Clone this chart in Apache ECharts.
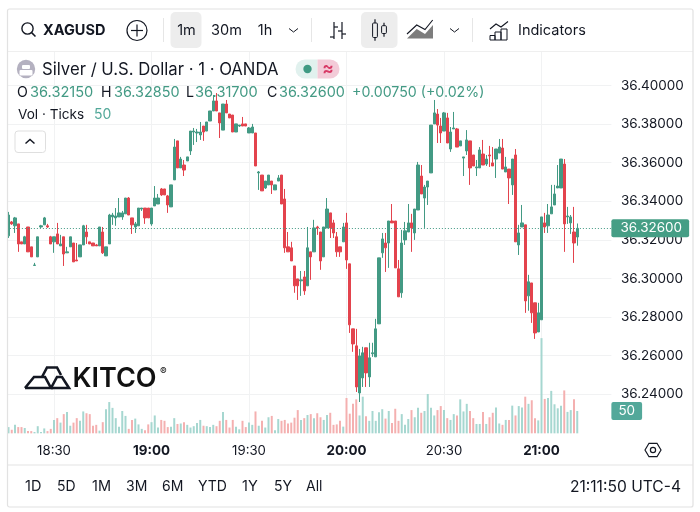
<!DOCTYPE html>
<html><head><meta charset="utf-8">
<style>html,body{margin:0;padding:0;background:#fff}#c{width:700px;height:512px}</style>
<script src="https://cdn.jsdelivr.net/npm/echarts@6/dist/echarts.min.js"></script>
</head><body><div id="c"></div>
<script>
const categories=['18:16','18:17','18:18','18:19','18:20','18:21','18:22','18:23','18:24','18:25','18:26','18:27','18:28','18:29','18:30','18:31','18:32','18:33','18:34','18:35','18:36','18:37','18:38','18:39','18:40','18:41','18:42','18:43','18:44','18:45','18:46','18:47','18:48','18:49','18:50','18:51','18:52','18:53','18:54','18:55','18:56','18:57','18:58','18:59','19:00','19:01','19:02','19:03','19:04','19:05','19:06','19:07','19:08','19:09','19:10','19:11','19:12','19:13','19:14','19:15','19:16','19:17','19:18','19:19','19:20','19:21','19:22','19:23','19:24','19:25','19:26','19:27','19:28','19:29','19:30','19:31','19:32','19:33','19:34','19:35','19:36','19:37','19:38','19:39','19:40','19:41','19:42','19:43','19:44','19:45','19:46','19:47','19:48','19:49','19:50','19:51','19:52','19:53','19:54','19:55','19:56','19:57','19:58','19:59','20:00','20:01','20:02','20:03','20:04','20:05','20:06','20:07','20:08','20:09','20:10','20:11','20:12','20:13','20:14','20:15','20:16','20:17','20:18','20:19','20:20','20:21','20:22','20:23','20:24','20:25','20:26','20:27','20:28','20:29','20:30','20:31','20:32','20:33','20:34','20:35','20:36','20:37','20:38','20:39','20:40','20:41','20:42','20:43','20:44','20:45','20:46','20:47','20:48','20:49','20:50','20:51','20:52','20:53','20:54','20:55','20:56','20:57','20:58','20:59','21:00','21:01','21:02','21:03','21:04','21:05','21:06','21:07','21:08','21:09','21:10','21:11','21:12','21:13','21:14','21:15','21:16','21:17','21:18','21:19','21:20','21:21'];
const timeTicks=['18:30','19:00','19:30','20:00','20:30','21:00'];
const opens=[36.3221,36.3293,36.3273,36.3283,36.3190,36.3179,36.3267,36.3164,36.3068,36.3112,36.3267,36.3278,36.3273,36.3216,36.3190,36.3231,36.3169,36.3216,36.3133,36.3164,36.3184,36.3096,36.3112,36.3174,36.3241,36.3190,36.3184,36.3174,36.3169,36.3241,36.3117,36.3179,36.3319,36.3314,36.3319,36.3319,36.3335,36.3417,36.3314,36.3267,36.3273,36.3360,36.3365,36.3365,36.3283,36.3376,36.3386,36.3464,36.3464,36.3428,36.3371,36.3511,36.3713,36.3573,36.3588,36.3609,36.3661,36.3759,36.3754,36.3744,36.3790,36.3764,36.3816,36.3868,36.3920,36.3858,36.3769,36.3904,36.3852,36.3847,36.3759,36.3790,36.3801,36.3801,36.3754,36.3754,36.3754,36.3547,36.3536,36.3469,36.3485,36.3505,36.3459,36.3505,36.3536,36.3412,36.3164,36.3159,36.3065,36.2998,36.2988,36.3008,36.2962,36.3138,36.3138,36.3267,36.3241,36.3112,36.3262,36.3340,36.3288,36.3216,36.3164,36.3190,36.3288,36.3076,36.2739,36.2651,36.2407,36.2485,36.2641,36.2490,36.2610,36.2594,36.2765,36.3133,36.3184,36.3184,36.3298,36.3298,36.3050,36.2926,36.3200,36.3241,36.3288,36.3236,36.3355,36.3531,36.3417,36.3474,36.3547,36.3801,36.3852,36.3790,36.3764,36.3832,36.3671,36.3775,36.3775,36.3687,36.3624,36.3661,36.3713,36.3640,36.3573,36.3573,36.3645,36.3593,36.3640,36.3599,36.3619,36.3650,36.3676,36.3552,36.3567,36.3485,36.3640,36.3174,36.3267,36.3278,36.2910,36.2977,36.2874,36.2723,36.2786,36.3288,36.3273,36.3335,36.3381,36.3469,36.3469,36.3593,36.3319,36.3288,36.3241,36.3215];
const highs=[36.3345,36.3298,36.3319,36.3283,36.3190,36.3221,36.3267,36.3164,36.3081,36.3216,36.3278,36.3319,36.3283,36.3221,36.3216,36.3288,36.3226,36.3216,36.3164,36.3216,36.3184,36.3184,36.3174,36.3278,36.3278,36.3190,36.3184,36.3179,36.3267,36.3267,36.3164,36.3335,36.3340,36.3365,36.3417,36.3350,36.3417,36.3422,36.3314,36.3293,36.3365,36.3365,36.3365,36.3365,36.3365,36.3479,36.3438,36.3469,36.3464,36.3433,36.3485,36.3723,36.3713,36.3630,36.3614,36.3630,36.3764,36.3780,36.3775,36.3811,36.3790,36.3811,36.3868,36.3951,36.3961,36.3858,36.3904,36.3925,36.3852,36.3847,36.3801,36.3795,36.3837,36.3801,36.3785,36.3801,36.3754,36.3557,36.3536,36.3505,36.3536,36.3505,36.3485,36.3536,36.3536,36.3464,36.3241,36.3190,36.3065,36.2998,36.3039,36.3039,36.3267,36.3138,36.3304,36.3273,36.3241,36.3267,36.3417,36.3340,36.3304,36.3241,36.3164,36.3288,36.3340,36.3076,36.2739,36.2739,36.2635,36.2646,36.2641,36.2667,36.2667,36.2791,36.3107,36.3236,36.3236,36.3298,36.3386,36.3298,36.3096,36.3252,36.3293,36.3386,36.3335,36.3360,36.3604,36.3588,36.3485,36.3505,36.3795,36.3925,36.3878,36.3832,36.3863,36.3858,36.3785,36.3863,36.3780,36.3713,36.3630,36.3769,36.3713,36.3640,36.3614,36.3681,36.3718,36.3640,36.3687,36.3681,36.3671,36.3723,36.3723,36.3630,36.3567,36.3619,36.3671,36.3278,36.3381,36.3278,36.3019,36.2977,36.2874,36.2874,36.3319,36.3340,36.3386,36.3485,36.3485,36.3588,36.3619,36.3619,36.3371,36.3329,36.3371,36.3285];
const lows=[36.3210,36.3278,36.3236,36.3138,36.3179,36.3179,36.3138,36.3112,36.3065,36.3112,36.3262,36.3278,36.3262,36.3179,36.3133,36.3179,36.3169,36.3065,36.3133,36.3164,36.3086,36.3091,36.3112,36.3174,36.3179,36.3179,36.3169,36.3169,36.3169,36.3127,36.3117,36.3179,36.3278,36.3273,36.3319,36.3304,36.3335,36.3329,36.3231,36.3236,36.3273,36.3350,36.3283,36.3314,36.3273,36.3376,36.3386,36.3428,36.3433,36.3340,36.3371,36.3511,36.3573,36.3573,36.3531,36.3609,36.3640,36.3692,36.3707,36.3718,36.3713,36.3764,36.3816,36.3868,36.3868,36.3728,36.3769,36.3858,36.3832,36.3759,36.3759,36.3785,36.3790,36.3790,36.3754,36.3754,36.3583,36.3459,36.3454,36.3464,36.3485,36.3438,36.3459,36.3505,36.3386,36.3133,36.3138,36.3091,36.2926,36.2889,36.2910,36.2915,36.2962,36.2993,36.3138,36.3226,36.3045,36.3112,36.3262,36.3210,36.3210,36.3112,36.3112,36.3190,36.3050,36.2718,36.2620,36.2412,36.2360,36.2438,36.2438,36.2438,36.2594,36.2594,36.2765,36.3107,36.3034,36.3055,36.3288,36.3055,36.2905,36.2900,36.3174,36.3241,36.3138,36.3200,36.3355,36.3438,36.3262,36.3381,36.3547,36.3801,36.3702,36.3702,36.3764,36.3702,36.3656,36.3775,36.3681,36.3687,36.3531,36.3640,36.3485,36.3583,36.3531,36.3573,36.3588,36.3583,36.3578,36.3583,36.3521,36.3650,36.3567,36.3552,36.3386,36.3433,36.3190,36.3122,36.3267,36.2822,36.2833,36.2770,36.2687,36.2723,36.2786,36.3236,36.3236,36.3335,36.3381,36.3469,36.3469,36.3138,36.3283,36.3231,36.3081,36.3170];
const closes=[36.3329,36.3283,36.3314,36.3179,36.3179,36.3216,36.3138,36.3112,36.3070,36.3216,36.3273,36.3314,36.3267,36.3179,36.3216,36.3179,36.3179,36.3127,36.3138,36.3216,36.3086,36.3091,36.3174,36.3273,36.3216,36.3179,36.3169,36.3169,36.3267,36.3133,36.3164,36.3329,36.3329,36.3324,36.3340,36.3340,36.3417,36.3329,36.3278,36.3283,36.3365,36.3365,36.3314,36.3314,36.3365,36.3417,36.3417,36.3433,36.3433,36.3381,36.3485,36.3681,36.3573,36.3619,36.3562,36.3630,36.3764,36.3764,36.3759,36.3759,36.3759,36.3811,36.3868,36.3920,36.3868,36.3806,36.3904,36.3858,36.3832,36.3759,36.3801,36.3795,36.3790,36.3790,36.3780,36.3785,36.3583,36.3552,36.3454,36.3505,36.3536,36.3485,36.3485,36.3521,36.3386,36.3159,36.3138,36.3091,36.2962,36.2962,36.2993,36.2936,36.3159,36.3112,36.3262,36.3262,36.3091,36.3267,36.3360,36.3262,36.3236,36.3138,36.3138,36.3267,36.3096,36.2760,36.2661,36.2438,36.2599,36.2615,36.2511,36.2589,36.2615,36.2739,36.3107,36.3205,36.3159,36.3298,36.3288,36.3055,36.2905,36.3184,36.3247,36.3288,36.3262,36.3360,36.3588,36.3438,36.3474,36.3505,36.3795,36.3858,36.3795,36.3754,36.3858,36.3702,36.3759,36.3780,36.3681,36.3713,36.3630,36.3718,36.3573,36.3583,36.3578,36.3666,36.3588,36.3619,36.3635,36.3583,36.3671,36.3681,36.3567,36.3578,36.3521,36.3619,36.3190,36.3236,36.3288,36.2884,36.2983,36.2822,36.2718,36.2822,36.3319,36.3267,36.3329,36.3371,36.3438,36.3479,36.3619,36.3283,36.3324,36.3319,36.3184,36.3260];
const ticks=[14,8,19,14,14,12,5,5,3,16,3,11,5,10,30,34,24,43,48,17,24,34,28,49,45,43,17,19,6,25,54,70,57,34,15,50,39,10,30,33,20,10,7,20,25,40,13,30,28,14,15,34,21,22,25,19,13,16,23,30,17,16,14,19,16,28,48,30,13,30,15,9,28,14,24,19,49,17,28,13,36,39,7,32,28,30,22,24,35,52,30,34,41,43,34,45,36,30,41,46,19,20,28,15,79,44,66,76,40,82,38,28,50,28,47,54,33,50,23,55,28,43,19,32,52,36,57,46,50,88,57,40,52,61,52,34,30,43,40,76,49,66,50,34,21,21,48,21,36,46,58,22,19,30,30,62,40,61,58,82,66,74,34,29,213,77,79,95,65,56,62,96,48,52,76,50];
const lastPrice=36.326, lastTicks=50;

const UP='#439A84', DOWN='#E3434D', UPV='#A6D7D0', DOWNV='#F4B0B0', INK='#131722', GRID='#F1F2F3';
const FONT='Inter, "Noto Sans", sans-serif';
const ohlc=opens.map((o,i)=>[o,closes[i],lows[i],highs[i]]);
const vols=ticks.map((t,i)=>({value:t,itemStyle:{color:closes[i]>=opens[i]?UPV:DOWNV}}));

const T=(x,y,text,o={})=>({type:'text',z:100,style:Object.assign({x,y,text,fill:INK,font:`${o.w||400} ${o.s||14.5}px ${FONT}`,textVerticalAlign:'middle',textAlign:o.a||'left'},o.fill?{fill:o.fill}:{})});
const S=(o)=>Object.assign({stroke:INK,lineWidth:1.2,fill:'none'},o);
const line=(x1,y1,x2,y2,c,w=1)=>({type:'line',z:100,shape:{x1,y1,x2,y2},style:{stroke:c,lineWidth:w}});
const rect=(x,y,w,h,fill,r=0,stroke)=>({type:'rect',z:100,shape:{x,y,width:w,height:h,r},style:{fill,stroke:stroke||null,lineWidth:1}});
const circ=(cx,cy,r,o)=>({type:'circle',z:100,shape:{cx,cy,r},style:S(o||{})});
const poly=(pts,o)=>({type:'polyline',z:100,shape:{points:pts},style:S(o||{})});

const G=[
 rect(0,0,700,51.5,'#fff'),rect(0,466,700,46,'#fff'),rect(0,0,7,512,'#fff'),rect(693.5,0,7,512,'#fff'),
 line(8,51.5,693,51.5,'#EFEFEF',1),line(8,465,693,465,'#F1F1F1',2),
 // search
 circ(27.5,28.5,5.6,{lineWidth:1.4}),line(31.6,32.6,35.5,36.5,INK,1.5),
 T(43,30.5,'XAGUSD',{w:700,s:14.5}),
 circ(137,30.5,10,{}),line(131,30.5,143,30.5,INK,1.2),line(137,24.5,137,36.5,INK,1.2),
 line(163.5,18,163.5,42,'#E6E6E6'),
 rect(170.5,12,31,36,'#EDEDED',5),
 T(186.5,31,'1m',{a:'center'}),T(226.5,31,'30m',{a:'center'}),T(265,31,'1h',{a:'center'}),
 poly([[289,28.5],[293.5,32],[298,28.5]],{lineWidth:1}),
 line(311.5,18,311.5,42,'#E6E6E6'),
 // bars icon
 line(334,22,334,39,INK,1.2),line(330,37,334,37,INK,1.2),line(334,27,338,27,INK,1.2),
 line(342,22,342,39,INK,1.2),line(338,31,342,31,INK,1.2),line(342,34,346,34,INK,1.2),
 // candles icon (selected)
 rect(361,12,36.5,36,'#EDEDED',5),
 line(375,19.3,375,23,INK,1.2),line(375,37.5,375,40.7,INK,1.2),rect(372.6,23,4.8,14.5,'none',1,INK),
 line(384,22.7,384,25.7,INK,1.2),line(384,33.5,384,36.7,INK,1.2),rect(381.6,25.7,4.8,7.8,'none',1,INK),
 // area icon
 {type:'polygon',z:100,shape:{points:[[407,38.5],[416.7,29],[425,34],[433,25],[433,38.5]]},style:{fill:'#7D7D7D'}},
 poly([[407,34],[416.7,25],[425,29.5],[432.7,20]],{lineWidth:1.1}),
 poly([[450,28.5],[454.5,32],[459,28.5]],{lineWidth:1}),
 line(472.5,18,472.5,42,'#E6E6E6'),
 // indicators icon
 poly([[490,29],[496,24],[501,27],[508,21.5]],{lineWidth:1.1}),
 rect(490,35.5,5,4.5,'none',0,INK),rect(495,32,6,8,'none',0,INK),rect(501,29,6,11,'none',0,INK),
 T(518,31,'Indicators',{s:14.5}),
 // legend
 circ(26,69,9.2,{stroke:null,fill:'#B4B1C0'}),
 rect(19.5,70,13,5.5,'#fff',1),rect(22,65,8,4,'#fff',1),
 T(42,70,'Silver / U.S. Dollar · 1 · OANDA',{s:16.7}),
 rect(295.5,59.5,22,19,'#E1F1EE',[9.5,0,0,9.5]),
 rect(317.5,59.5,22,19,'#F3CBD8',[0,9.5,9.5,0]),
 circ(307.5,69,4.2,{stroke:null,fill:'#3F9A83'}),
 T(328,69,'≈',{s:17,w:700,a:'center',fill:'#D83A66'}),
 T(17,92.5,'O',{s:14.2}),T(30,92.5,'36.32150',{s:14.6,fill:UP}),
 T(101,92.5,'H',{s:14.2}),T(114,92.5,'36.32850',{s:14.4,fill:UP}),
 T(186,92.5,'L',{s:14.2}),T(195,92.5,'36.31700',{s:14.6,fill:UP}),
 T(267,92.5,'C',{s:14.2}),T(279,92.5,'36.32600',{s:14.4,fill:UP}),
 T(352,92.5,'+0.00750 (+0.02%)',{s:14.2,fill:UP}),
 T(18,115,'Vol · Ticks',{s:13.6}),T(94,115,'50',{s:14,fill:'#52A899'}),
 rect(15,131,30.5,21.5,'#fff',3,'#DFDFDF'),
 poly([[25.5,143.5],[30,139.5],[34.5,143.5]],{lineWidth:1.5}),
 // logo
 poly([[42,377],[47,367.5],[57,367.5],[61,375]],{lineWidth:2.6}),
 poly([[25,388],[34,377],[45,377],[51,388],[25,388]],{lineWidth:2.6}),
 poly([[51,388],[57,377],[62,377],[69,388],[51,388]],{lineWidth:2.6}),
 T(72.5,379,'KITCO',{s:27,w:600,fill:'#111'}),
 T(160,371.5,'®',{s:10,fill:'#111'}),
 // settings
 {type:'polygon',z:100,shape:{points:[[645,450],[649,443.3],[657,443.3],[661,450],[657,456.7],[649,456.7]]},style:S({lineWidth:1.2})},
 circ(653,450,2.6,{}),
 // ranges
 T(25,487,'1D',{s:14.5}),T(57,487,'5D',{s:14}),T(92,487,'1M',{s:14.5}),T(126,487,'3M',{s:14}),T(162,487,'6M',{s:14}),
 T(198,487,'YTD',{s:14}),T(242,487,'1Y',{s:14.5}),T(274,487,'5Y',{s:14}),T(306,487,'All',{s:14}),
 T(681,487,'21:11:50 UTC-4',{s:15.6,a:'right'}),
 // frame
 {type:'rect',z:101,shape:{x:7.5,y:9,width:685.5,height:498,r:2},style:{fill:'none',stroke:'#E2E2E2',lineWidth:1.2}}
];

const chart=echarts.init(document.getElementById('c'),null,{renderer:'canvas'});
chart.setOption({
 animation:false,
 backgroundColor:'#fff',
 textStyle:{fontFamily:FONT},
 grid:[
  {left:6.875,width:604.5,top:46.9,height:386,containLabel:false},
  {left:6.875,width:604.5,top:335,height:98.34,containLabel:false}
 ],
 xAxis:[
  {type:'category',gridIndex:0,data:categories,boundaryGap:true,
   axisLine:{show:false},axisTick:{show:false},
   splitLine:{show:true,alignWithLabel:true,interval:(i,v)=>timeTicks.includes(v),lineStyle:{color:GRID,width:1}},
   axisLabel:{show:true,interval:(i,v)=>timeTicks.includes(v),margin:12,color:INK,fontSize:13.2,fontFamily:FONT,hideOverlap:false,
    formatter:v=>v.endsWith(':00')?`{b|${v}}`:v,rich:{b:{fontWeight:700,fontSize:13.4,fontFamily:FONT,color:INK}}}},
  {type:'category',gridIndex:1,data:categories,boundaryGap:true,show:false}
 ],
 yAxis:[
  {type:'value',gridIndex:0,position:'right',min:36.22,max:36.42,interval:0.02,scale:true,
   axisLine:{show:false},axisTick:{show:false},
   splitLine:{show:true,showMinLine:false,showMaxLine:false,lineStyle:{color:GRID,width:1}},
   axisLabel:{margin:9.5,color:INK,fontSize:13.5,fontFamily:FONT,showMinLabel:false,showMaxLabel:false,
    formatter:v=>v.toFixed(5)}},
  {type:'value',gridIndex:1,min:0,max:220,show:false}
 ],
 series:[
  {type:'bar',name:'Vol',xAxisIndex:1,yAxisIndex:1,data:vols,barWidth:2,z:1,silent:true,
   markLine:{silent:true,symbol:'none',animation:false,precision:0,lineStyle:{color:'transparent',width:0},data:[{yAxis:lastTicks}],
    label:{show:true,position:'end',distance:0,formatter:()=>String(lastTicks),color:'#fff',fontSize:13.5,fontFamily:FONT,backgroundColor:'#53A89A',padding:[2,7,2,7],borderRadius:2,align:'left'}}},
  {type:'candlestick',name:'XAGUSD',xAxisIndex:0,yAxisIndex:0,data:ohlc,barWidth:2.6,z:3,silent:true,
   itemStyle:{color:UP,color0:DOWN,borderColor:UP,borderColor0:DOWN,borderWidth:1},
   markLine:{silent:true,symbol:'none',animation:false,precision:5,lineStyle:{type:[1,2],color:UP,width:1},data:[{yAxis:lastPrice}],
    label:{show:true,position:'end',distance:0,formatter:()=>lastPrice.toFixed(5),color:'#fff',fontSize:13.5,fontFamily:FONT,backgroundColor:'#459E85',padding:[2,7,2,9],borderRadius:2,align:'left'}}}
 ],
 graphic:{elements:G}
});
</script></body></html>
